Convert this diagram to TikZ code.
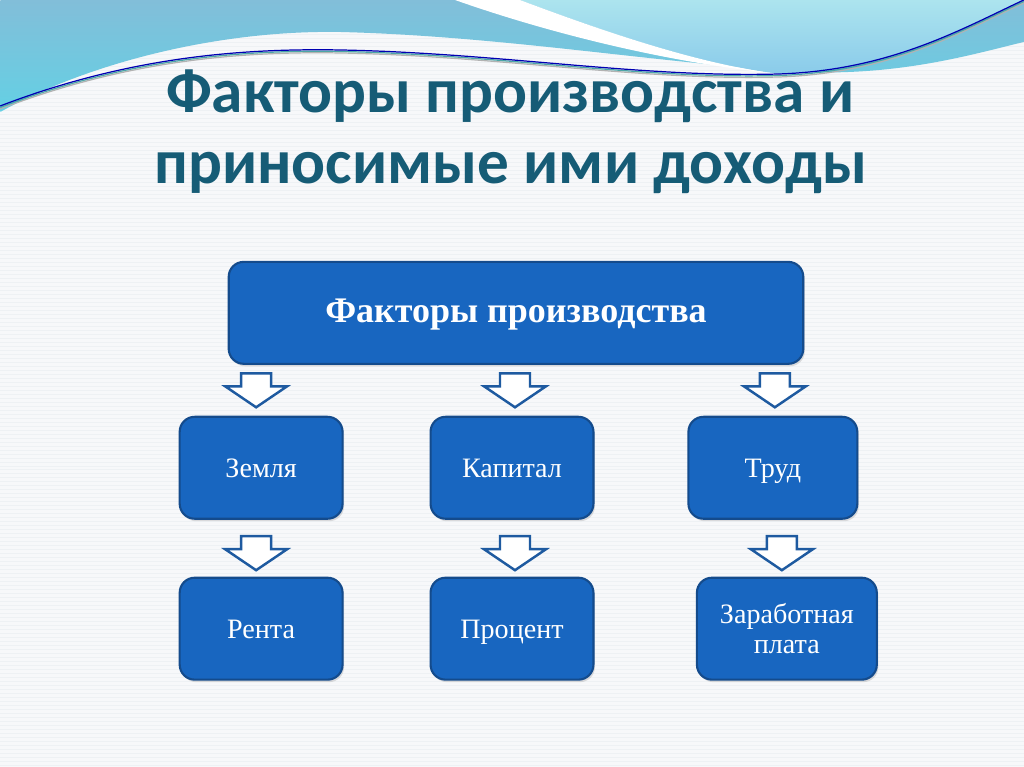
\documentclass[tikz,border=0pt]{standalone}
\usepackage{fontspec}
\setmainfont{Liberation Serif}
\newfontfamily\titlefont{Carlito}
\usetikzlibrary{calc,shadows}
\definecolor{boxblue}{RGB}{24,102,192}
\definecolor{boxedge}{RGB}{20,75,140}
\definecolor{arrowblue}{RGB}{30,90,160}
\definecolor{titleteal}{RGB}{22,92,118}
\definecolor{paper}{RGB}{247,248,250}
\definecolor{paperline}{RGB}{238,241,244}
\definecolor{waveblue}{RGB}{130,190,217}
\definecolor{wavecyan}{RGB}{100,208,228}
\definecolor{wavelight}{RGB}{172,228,238}
\definecolor{wavesky}{RGB}{138,203,234}

\tikzset{
  factbox/.style={draw=boxedge, line width=1.2pt, fill=boxblue, rounded corners=0.3cm,
    text=white, align=center, minimum height=2.04cm,
    drop shadow={shadow xshift=0.03cm, shadow yshift=-0.05cm, opacity=0.25}},
  oneline/.style={text height=2.7ex, text depth=0.3ex},
  bigbox/.style={factbox, oneline, minimum width=11.5cm,
    font=\bfseries\fontsize{20.5}{24}\selectfont},
  smallbox/.style={factbox, minimum width=3.26cm, font=\fontsize{16}{17}\selectfont},
  arrowline/.style={draw=arrowblue, line width=1.4pt, fill=white, line join=miter},
  titletext/.style={text=titleteal, font=\titlefont\bfseries\fontsize{36}{42}\selectfont, anchor=base},
  downarr/.pic={
    \draw[arrowline] (-15,-17) -- (15,-17) -- (15,-4) -- (31,-4) -- (0,17)
      -- (-31,-4) -- (-15,-4) -- cycle;
  }
}

\begin{document}
\begin{tikzpicture}[x=0.02cm,y=-0.02cm]
	% paper
	\fill[paper] (0,0) rectangle (1024,767);
	\foreach \y in {2,6,...,767}
		\draw[paperline, line width=0.3pt] (0,\y) -- (1024,\y);
	\useasboundingbox (0,0) rectangle (1024,767);

	%% waves on top
	\shade[top color=waveblue, bottom color=wavecyan]
		(0,0) -- (1024,0) -- (1024,42)
		.. controls (970,55) and (900,76) .. (800,72)
		.. controls (650,62) and (500,36) .. (340,32)
		.. controls (220,30) and (90,62) .. (0,112) -- cycle;
	\shade[top color=wavelight, bottom color=wavesky]
		(520,0) .. controls (600,30) and (700,65) .. (780,74)
		.. controls (890,70) and (960,30) .. (1024,0) -- cycle;
	\fill[white]
		(455,0) .. controls (540,30) and (660,62) .. (780,74)
		.. controls (700,65) and (600,30) .. (520,0) -- cycle;
	\foreach \c/\d in {gray!60/3, teal!70/1.5, blue!70!black/0} {
		\draw[\c, line width=0.7pt]
			(0,106+\d) .. controls (120,60+\d) and (230,48+\d) .. (340,50+\d)
			.. controls (500,53+\d) and (640,78+\d) .. (780,74+\d)
			.. controls (890,70+\d) and (960,30+\d) .. (1024,0+\d);
	}

	% title
	\node[titletext] (title1) at (510,113) {Факторы производства и};
	\node[titletext] (title2) at (511,184) {приносимые ими доходы};

	% boxes
	\node[bigbox] (fact) at (516,313) {Факторы производства};
	\node[smallbox, oneline] (land) at (261,468) {Земля};
	\node[smallbox, oneline] (capital) at (512,468) {Капитал};
	\node[smallbox, oneline, minimum width=3.38cm] (labour) at (773,468) {Труд};
	\node[smallbox, oneline] (rent) at (261,629) {Рента};
	\node[smallbox, oneline] (interest) at (512,629) {Процент};
	\node[smallbox, minimum width=3.6cm] (wage) at (787,629) {Заработная\\плата};

	% block arrows
	\pic at ($($(fact.south -| land)!.5!(land.north)$)+(-5,0)$) {downarr};
	\pic at ($($(fact.south -| capital)!.5!(capital.north)$)+(3,0)$) {downarr};
	\pic at ($($(fact.south -| labour)!.5!(labour.north)$)+(2,0)$) {downarr};
	\pic at ($($(land.south)!.5!(rent.north)$)+(-5,5)$) {downarr};
	\pic at ($($(capital.south)!.5!(interest.north)$)+(3,5)$) {downarr};
	\pic at ($($(labour.south -| wage)!.5!(wage.north)$)+(-5,5)$) {downarr};
\end{tikzpicture}
\end{document}
